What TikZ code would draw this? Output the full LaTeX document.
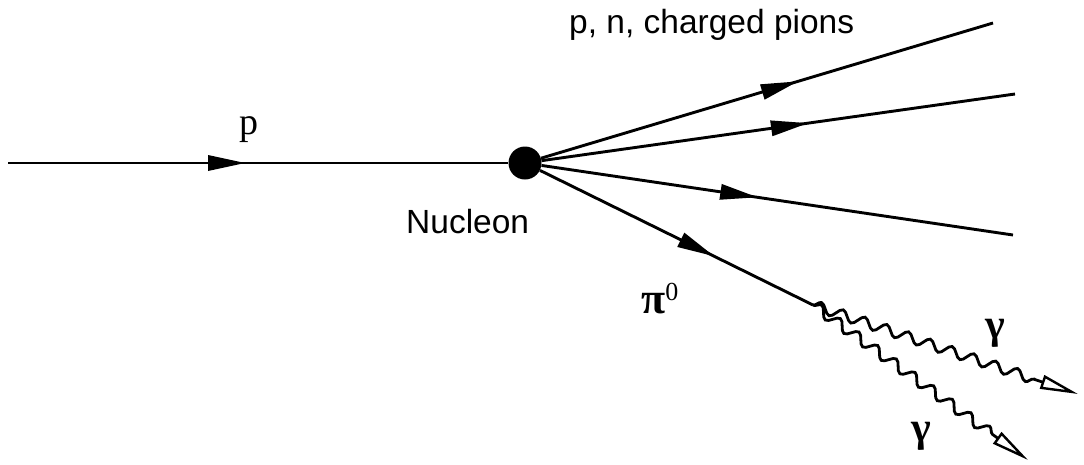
\documentclass[tikz,border=0pt]{standalone}
\usepackage{fontspec}
\setmainfont{Liberation Serif}
\newfontfamily\labsans{Liberation Sans}
\usetikzlibrary{arrows.meta,decorations.markings,decorations.pathmorphing}
\begin{document}
\begin{tikzpicture}[x=1pt,y=-1pt,
  particle/.style={line width=2.9pt},
  midarrow/.style={postaction={decorate},decoration={markings,mark=at position #1 with {\fill (0pt,0pt) -- (-37pt,8pt) -- (-37pt,-8pt) -- cycle;}}},
  photon/.style={line width=2.8pt, decorate, decoration={snake, segment length=23pt, amplitude=5pt, post length=36pt}, -{Triangle[open,length=38pt,width=14pt,line width=2.4pt]}},
  sanslab/.style={font=\labsans\fontsize{33.5}{40}\selectfont, inner sep=0pt, anchor=base west},
  serlab/.style={font=\fontsize{38}{45}\selectfont, inner sep=0pt, anchor=base west},
  greeklab/.style={font=\bfseries\fontsize{42}{48}\selectfont, inner sep=0pt, anchor=base west}
]
\useasboundingbox[fill=white] (0,0) rectangle (1084,464);
\node[circle,fill,inner sep=0pt,minimum size=33pt] (nuc) at (525,163) {};
\coordinate (in) at (8,163);
\coordinate (e1) at (993,23);
\coordinate (e2) at (1015,94);
\coordinate (e3) at (1013,235);
\coordinate (dec) at (813,305);
\coordinate (g1) at (1078,394);
\coordinate (g2) at (1028,460);

\draw[particle, midarrow=237pt] (in) -- (nuc);
\draw[particle, midarrow=268pt] (nuc) -- (e1);
\draw[particle, midarrow=269pt] (nuc) -- (e2);
\draw[particle, midarrow=218pt] (nuc) -- (e3);
\draw[particle, midarrow=194pt] (nuc) -- (dec);
\draw[photon] (dec) -- (g1);
\draw[photon] (dec) -- (g2);

\node[sanslab] (lp) at (569,33) {p, n, charged pions};
\node[sanslab] (ln) at (406,233) {Nucleon};
\node[serlab] (lpp) at (239,134) {p};
\node[greeklab, font=\bfseries\fontsize{44}{50}\selectfont] (lpi) at (641,313) {π\raisebox{13pt}{\mdseries\fontsize{26}{30}\selectfont 0}};
\node[greeklab] (lg1) at (985,338) {γ};
\node[greeklab] (lg2) at (911,441) {γ};
\end{tikzpicture}
\end{document}
